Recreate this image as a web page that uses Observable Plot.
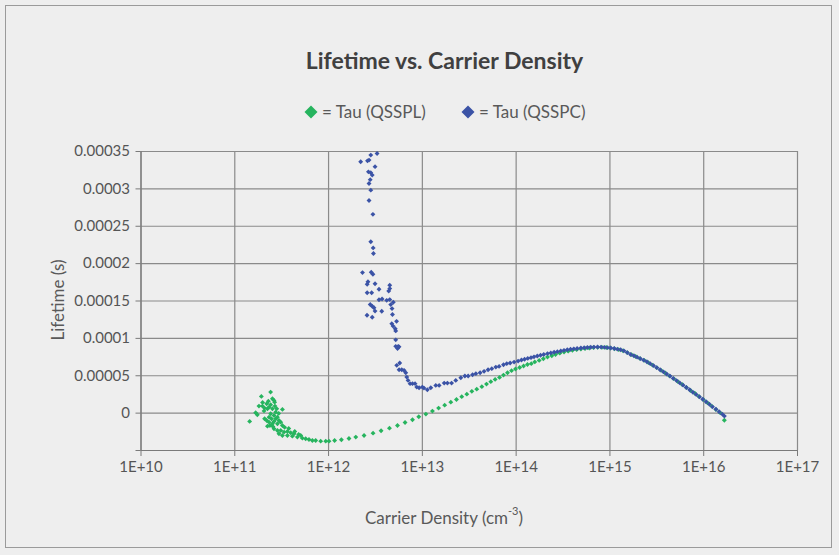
<!DOCTYPE html>
<html>
<head>
<meta charset="utf-8">
<script src="https://cdn.jsdelivr.net/npm/d3@7"></script>
<script src="https://cdn.jsdelivr.net/npm/@observablehq/plot@0.6"></script>
<style>
  html, body { margin: 0; padding: 0; background: #ffffff; }
  #wrap { position: relative; width: 839px; height: 555px; background: #eeeeee; overflow: hidden; }
  #frame { position: absolute; left: 5px; top: 5px; width: 827px; height: 543px; border: 1px solid #9a9a9a; box-sizing: border-box; pointer-events: none; }
  .narrow { font-family: "Lato", sans-serif; }
  #title { position: absolute; left: 0; width: 889px; top: 46px; text-align: center; font-family: "Lato", sans-serif; font-weight: bold; font-size: 23px; color: #404040; }
  .leg { position: absolute; top: 101px; font-size: 17px; color: #595959; white-space: nowrap; display: flex; align-items: center; }
  .leg svg { margin-right: 4px; }
  #ytitle { position: absolute; left: 57px; top: 300px; transform: translate(-50%, -50%) rotate(-90deg); font-size: 17px; color: #595959; white-space: nowrap; }
  #xtitle { position: absolute; left: 444px; top: 517px; transform: translate(-50%, -50%); font-size: 17px; color: #595959; white-space: nowrap; }
  #xtitle sup { font-size: 11px; position: relative; top: -2px; }
  #chart { position: absolute; left: 0; top: 0; }
</style>
</head>
<body>
<div id="wrap">
  <div id="chart"></div>
  <div id="title">Lifetime vs. Carrier Density</div>
  <div class="leg narrow" id="leg1" style="left:304px;"></div>
  <div class="leg narrow" id="leg2" style="left:461px;"></div>
  <div id="ytitle" class="narrow">Lifetime (s)</div>
  <div id="xtitle" class="narrow">Carrier Density (cm<sup>-3</sup>)</div>
  <div id="frame"></div>
</div>
<script>
// Series names and colours
const seriesNames = ["= Tau (QSSPL)", "= Tau (QSSPC)"];
const seriesColors = ["#26b45e", "#3b53a6"];

// Axis ticks
const xTicks = [1e10, 1e11, 1e12, 1e13, 1e14, 1e15, 1e16, 1e17];
const yTicks = [-0.00005, 0, 0.00005, 0.0001, 0.00015, 0.0002, 0.00025, 0.0003, 0.00035];

// Tau (QSSPL): [carrier density cm^-3, lifetime s]
const qssplPoints = [
  [1.44e11,-1.11e-5],[1.67e11,5e-7],[1.74e11,-2.1e-6],[1.81e11,9.4e-6],[1.92e11,2.24e-5],[2.41e11,2.81e-5],
  [1.97e11,9.4e-6],[2.08e11,6.7e-6],[2.19e11,1.26e-5],[2.23e11,5.9e-6],[2.32e11,8.0e-6],[2.41e11,1.12e-5],
  [2.52e11,5.9e-6],[2.62e11,1.70e-5],[2.68e11,9.4e-6],[2.80e11,5.9e-6],[3.22e11,5.0e-6],[2.08e11,-7.5e-6],
  [2.19e11,-9.8e-6],[2.32e11,-5.4e-6],[2.32e11,-1.21e-5],[2.41e11,-8e-7],[2.46e11,-7.5e-6],[2.52e11,-1.42e-5],
  [2.62e11,-3.1e-6],[2.62e11,-1.11e-5],[2.73e11,-7.5e-6],[2.85e11,-5.4e-6],[2.85e11,-1.42e-5],[2.23e11,-1.74e-5],
  [2.37e11,-1.65e-5],[2.96e11,-9.8e-6],[3.09e11,-1.21e-5],[3.22e11,-1.65e-5],[2.62e11,-2.09e-5],[2.85e11,-2.32e-5],
  [3.09e11,-2.32e-5],[3.35e11,-2.54e-5],[3.64e11,-2.45e-5],[3.95e11,-2.63e-5],[2.96e11,-2.76e-5],[3.22e11,-2.99e-5],
  [3.64e11,-2.99e-5],[4.11e11,-3.08e-5],[4.28e11,-2.76e-5],[4.65e11,-3.21e-5],[5.05e11,-2.99e-5],[5.26e11,-3.35e-5],
  [5.70e11,-3.43e-5],[6.18e11,-3.52e-5],[6.72e11,-3.66e-5],[7.29e11,-3.66e-5],[8.24e11,-3.75e-5],[9.33e11,-3.75e-5],
  [2.73e11,1.3e-6],[2.52e11,1.93e-5],[2.66e11,1.47e-5],[1.98e11,1.43e-5],[2.94e11,-4e-7],[3.40e11,-1.9e-5],
  [3.76e11,-2.05e-5],[4.36e11,-2.45e-5],[4.80e11,-2.85e-5],[2.05e11,3.0e-6],[2.28e11,1.6e-5],[2.55e11,-1.8e-5],
  [1.01e12,-3.75e-5],[1.16e12,-3.66e-5],[1.37e12,-3.56e-5],[1.65e12,-3.39e-5],[1.95e12,-3.21e-5],[2.39e12,-2.99e-5],
  [2.98e12,-2.68e-5],[3.63e12,-2.36e-5],[4.46e12,-2.01e-5],[5.43e12,-1.65e-5],[6.54e12,-1.25e-5],[7.85e12,-8.8e-6],
  [9.16e12,-4.8e-6],[1.09e13,-1.3e-6],[1.28e13,2.7e-6],[1.49e13,6.7e-6],[1.73e13,1.07e-5],[2.01e13,1.47e-5],
  [2.31e13,1.83e-5],[2.63e13,2.20e-5],[2.98e13,2.54e-5],[3.37e13,2.91e-5],[3.80e13,3.21e-5],[4.31e13,3.54e-5],
  [4.83e13,3.88e-5],[5.37e13,4.21e-5],[5.97e13,4.51e-5],[6.65e13,4.78e-5],[7.33e13,5.09e-5],[8.09e13,5.41e-5],
  [8.93e13,5.68e-5],[9.84e13,5.90e-5],[1.09e14,6.10e-5],[1.20e14,6.3e-5],[1.32e14,6.5e-5],[1.45e14,6.62e-5],
  [1.58e14,6.85e-5],[1.76e14,7.05e-5],[1.95e14,7.28e-5],[2.16e14,7.50e-5],[2.40e14,7.68e-5],[2.63e14,7.85e-5],
  [2.92e14,8.02e-5],[3.24e14,8.17e-5],[3.59e14,8.29e-5],[3.98e14,8.40e-5],[4.42e14,8.49e-5],[4.90e14,8.57e-5],
  [5.43e14,8.65e-5],[6.03e14,8.72e-5],[6.68e14,8.78e-5],[7.41e14,8.80e-5],[8.22e14,8.80e-5],[9.12e14,8.78e-5],
  [1.01e15,8.72e-5],[1.12e15,8.62e-5],[1.24e15,8.50e-5],[1.38e15,8.35e-5],[1.53e15,8.10e-5],[1.70e15,7.82e-5],
  [1.88e15,7.58e-5],[2.09e15,7.32e-5],[2.32e15,7.06e-5],[2.57e15,6.75e-5],[2.85e15,6.42e-5],[3.16e15,6.08e-5],
  [3.51e15,5.72e-5],[3.89e15,5.36e-5],[4.32e15,4.98e-5],[4.79e15,4.61e-5],[5.31e15,4.22e-5],[5.89e15,3.83e-5],
  [6.53e15,3.42e-5],[7.24e15,3.03e-5],[8.04e15,2.65e-5],[8.91e15,2.23e-5],[9.89e15,1.81e-5],[1.10e16,1.37e-5],
  [1.22e16,9.3e-6],[1.35e16,4.9e-6],[1.50e16,4e-7],[1.66e16,-9.5e-6]
];

// Tau (QSSPC): [carrier density cm^-3, lifetime s]
const qsspcPoints = [
  [3.29e12,3.474e-4],[2.82e12,3.452e-4],[2.20e12,3.362e-4],[2.60e12,3.375e-4],[2.70e12,3.385e-4],[3.13e12,3.297e-4],
  [2.66e12,3.228e-4],[2.82e12,3.217e-4],[2.92e12,3.184e-4],[2.78e12,3.123e-4],[2.70e12,3.072e-4],[2.82e12,2.983e-4],
  [2.70e12,2.845e-4],[2.97e12,2.659e-4],[2.82e12,2.293e-4],[2.99e12,2.210e-4],[3.01e12,2.135e-4],
  [2.30e12,1.880e-4],[2.85e12,1.884e-4],[2.97e12,1.858e-4],[2.63e12,1.757e-4],[2.58e12,1.724e-4],[3.13e12,1.730e-4],
  [4.49e12,1.710e-4],[4.49e12,1.666e-4],[4.38e12,1.634e-4],[3.45e12,1.657e-4],[2.58e12,1.610e-4],[2.88e12,1.610e-4],
  [3.45e12,1.516e-4],[3.72e12,1.527e-4],[4.17e12,1.509e-4],[4.49e12,1.519e-4],[4.90e12,1.483e-4],[4.60e12,1.452e-4],
  [2.78e12,1.453e-4],[2.92e12,1.429e-4],[3.05e12,1.409e-4],[4.75e12,1.398e-4],[3.13e12,1.365e-4],[3.69e12,1.362e-4],
  [4.80e12,1.319e-4],[2.57e12,1.309e-4],[2.92e12,1.282e-4],[5.31e12,1.228e-4],[4.72e12,1.197e-4],[4.87e12,1.164e-4],
  [5.14e12,1.128e-4],[5.20e12,1.100e-4],[5.20e12,9.80e-5],[5.20e12,8.93e-5],[5.64e12,8.87e-5],[5.44e12,8.63e-5],
  [5.53e12,8.93e-5],
  [5.33e12,6.39e-5],[5.74e12,6.70e-5],[5.65e12,5.81e-5],[6.03e12,5.81e-5],[6.38e12,5.72e-5],[6.65e12,5.41e-5],
  [6.82e12,4.82e-5],[7.04e12,4.38e-5],[7.40e12,3.94e-5],[7.85e12,3.94e-5],[8.36e12,3.94e-5],[8.71e12,3.48e-5],
  [9.23e12,3.40e-5],[1.00e13,3.48e-5],[1.04e13,3.35e-5],[1.13e13,3.13e-5],[1.23e13,3.40e-5],[1.39e13,3.71e-5],
  [1.51e13,3.71e-5],[1.71e13,4.02e-5],[1.85e13,4.02e-5],[2.05e13,4.02e-5],[2.27e13,4.38e-5],[2.57e13,4.74e-5],
  [2.84e13,4.96e-5],[3.08e13,4.96e-5],[3.43e13,5.14e-5],[3.72e13,5.28e-5],[4.13e13,5.41e-5],[4.55e13,5.59e-5],
  [5.02e13,5.81e-5],[5.50e13,5.95e-5],[6.07e13,6.16e-5],[6.58e13,6.25e-5],[7.33e13,6.48e-5],[7.94e13,6.62e-5],
  [8.63e13,6.70e-5],[9.51e13,6.83e-5],[1.05e14,6.96e-5],[1.14e14,7.10e-5],[1.23e14,7.20e-5],[1.33e14,7.32e-5],
  [1.44e14,7.42e-5],[1.55e14,7.53e-5],[1.68e14,7.64e-5],[1.82e14,7.74e-5],[1.97e14,7.85e-5],[2.16e14,7.96e-5],
  [2.34e14,8.05e-5],[2.54e14,8.14e-5],[2.75e14,8.22e-5],[2.99e14,8.31e-5],[3.24e14,8.40e-5],[3.51e14,8.47e-5],
  [3.80e14,8.54e-5],[4.12e14,8.60e-5],[4.47e14,8.65e-5],[4.90e14,8.71e-5],[5.31e14,8.75e-5],[5.75e14,8.78e-5],
  [6.24e14,8.81e-5],[6.76e14,8.83e-5],[7.38e14,8.84e-5],[8.04e14,8.83e-5],[8.71e14,8.80e-5],[9.44e14,8.76e-5],
  [1.02e15,8.71e-5],[1.11e15,8.64e-5],[1.20e15,8.56e-5],[1.30e15,8.47e-5],[1.41e15,8.33e-5],[1.53e15,8.10e-5],
  [1.66e15,7.85e-5],[1.80e15,7.68e-5],[1.95e15,7.49e-5],[2.11e15,7.29e-5],[2.29e15,7.09e-5],[2.48e15,6.87e-5],
  [2.69e15,6.62e-5],[2.92e15,6.35e-5],[3.16e15,6.08e-5],[3.43e15,5.80e-5],[3.72e15,5.52e-5],[4.03e15,5.24e-5],
  [4.37e15,4.95e-5],[4.73e15,4.65e-5],[5.13e15,4.35e-5],[5.56e15,4.04e-5],[6.03e15,3.74e-5],[6.53e15,3.42e-5],
  [7.08e15,3.12e-5],[7.67e15,2.80e-5],[8.32e15,2.48e-5],[9.02e15,2.17e-5],[9.77e15,1.86e-5],[1.06e16,1.52e-5],
  [1.15e16,1.19e-5],[1.24e16,8.4e-6],[1.35e16,5.2e-6],[1.46e16,1.9e-6],[1.58e16,-1.4e-6],[1.66e16,-4.0e-6]
];

const toRows = pts => pts.map(([n, tau]) => ({n, tau}));

const yFmt = d => d < -1e-9 ? "" : (Math.abs(d) < 1e-12 ? "0" : String(+d.toFixed(5)));
const xFmt = d => "1E+" + Math.round(Math.log10(d));

const plot = Plot.plot({
  width: 839,
  height: 555,
  marginLeft: 140.5,
  marginRight: 42,
  marginTop: 151,
  marginBottom: 105,
  style: {background: "transparent", fontFamily: '"Lato", sans-serif', fontSize: "15px", color: "#555555", overflow: "visible"},
  x: {type: "log", domain: [1e10, 1e17], label: null},
  y: {domain: [-0.00005, 0.00035], label: null},
  marks: [
    Plot.gridX(xTicks, {stroke: "#8a8a8a", strokeOpacity: 1, strokeWidth: 1.2}),
    Plot.gridY(yTicks, {stroke: "#8a8a8a", strokeOpacity: 1, strokeWidth: 1.2}),
    Plot.ruleX([1e10], {stroke: "#7a7a7a", strokeWidth: 1.2}),
    Plot.ruleY([-0.00005], {stroke: "#7a7a7a", strokeWidth: 1.2}),
    Plot.axisX({ticks: xTicks, tickFormat: xFmt, tickSize: 6, tickPadding: 5, stroke: "#7a7a7a", fill: "#555555", label: null}),
    Plot.axisY({ticks: yTicks, tickFormat: yFmt, tickSize: 5, tickPadding: 6, stroke: "#7a7a7a", fill: "#555555", label: null}),
    Plot.dot(toRows(qssplPoints), {x: "n", y: "tau", symbol: "diamond2", r: 2.2, fill: seriesColors[0], stroke: "none"}),
    Plot.dot(toRows(qsspcPoints), {x: "n", y: "tau", symbol: "diamond2", r: 2.2, fill: seriesColors[1], stroke: "none"})
  ]
});
document.getElementById("chart").appendChild(plot);

// Legend
const legIds = ["leg1", "leg2"];
legIds.forEach((id, i) => {
  const el = document.getElementById(id);
  el.innerHTML = `<svg width="14" height="14" viewBox="0 0 14 14"><polygon points="7,0.5 13.5,7 7,13.5 0.5,7" fill="${seriesColors[i]}"/></svg><span>${seriesNames[i]}</span>`;
});
</script>
</body>
</html>
